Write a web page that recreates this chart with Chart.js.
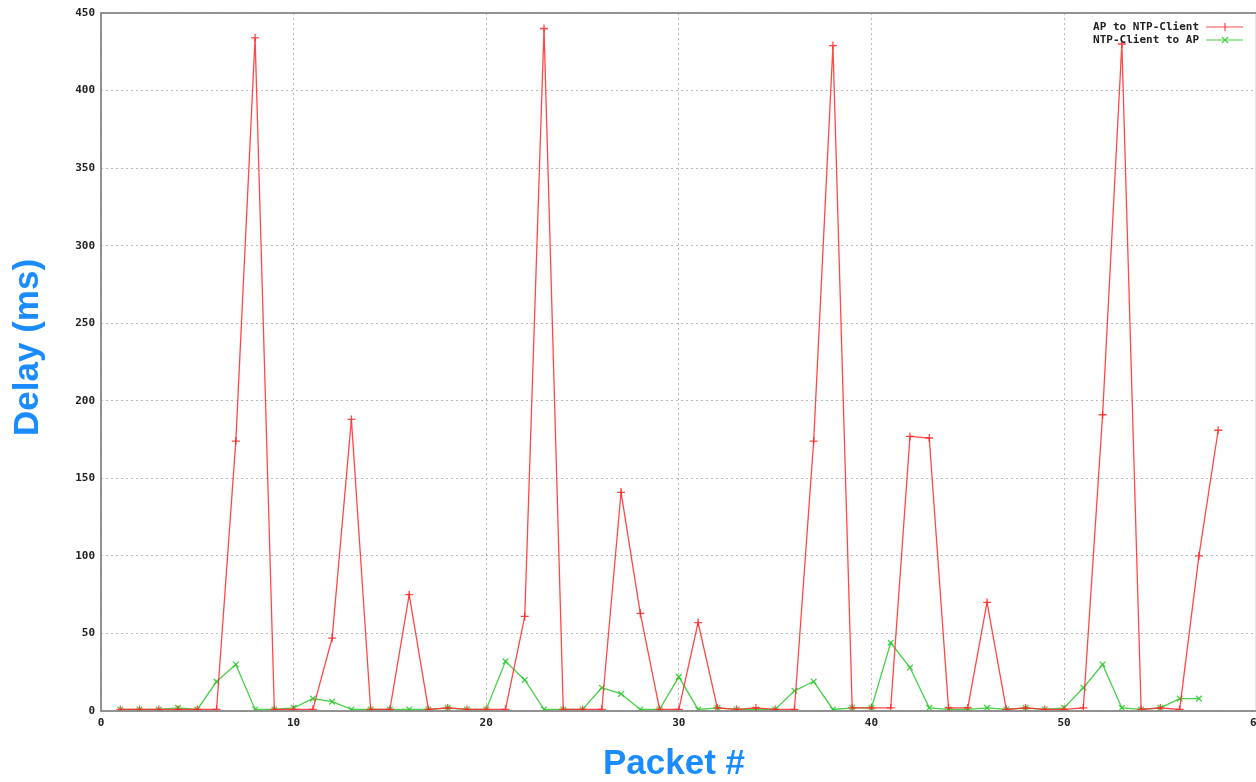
<!DOCTYPE html>
<html>
<head>
<meta charset="utf-8">
<script src="https://cdn.jsdelivr.net/npm/chart.js@4/dist/chart.umd.min.js"></script>
<style>
  html, body { margin: 0; padding: 0; background: #fff; overflow: hidden; }
  #wrap { width: 1262px; height: 782px; }
</style>
</head>
<body>
<div id="wrap"><canvas id="c"></canvas></div>
<script>
let packets = [1,2,3,4,5,6,7,8,9,10,11,12,13,14,15,16,17,18,19,20,21,22,23,24,25,26,27,28,29,30,
  31,32,33,34,35,36,37,38,39,40,41,42,43,44,45,46,47,48,49,50,51,52,53,54,55,56,57,58]

let apToClient = [1,1,1,1,1,1,174,434,1,1,1,47,188,1,1,75,1,2,1,1,1,61,440,1,1,1,141,63,1,1,
  57,2,1,2,1,1,174,429,2,2,2,177,176,2,2,70,1,2,1,1,2,191,430,1,2,1,100,181]

let clientToAp = [1,1,1,2,1,19,30,1,1,2,8,6,1,1,1,1,1,2,1,1,32,20,1,1,1,15,11,1,1,22,
  1,2,1,1,1,13,19,1,2,2,44,28,2,1,1,2,1,2,1,2,15,30,2,1,2,8,8]

let seriesNames = ['AP to NTP-Client', 'NTP-Client to AP']
let xTicks = [0, 10, 20, 30, 40, 50, 60]
let yTicks = [0, 50, 100, 150, 200, 250, 300, 350, 400, 450]

let red = 'rgba(255, 40, 40, 0.85)'
let green = 'rgba(40, 200, 40, 0.85)'
let tickFont = { family: 'DejaVu Sans Mono', size: 11, weight: 'bold' }
let titleFont = { family: 'Liberation Sans', size: 35, weight: 'bold' }

function toPoints(vals) {
    return vals.map((v, i) => ({ x: packets[i], y: v }))
}

// gnuplot style box round the plot and legend with sample on the right
let frame = {
    id: 'frame',
    afterDraw(chart) {
        let ctx = chart.ctx
        let a = chart.chartArea
        ctx.save()
        ctx.strokeStyle = '#888'
        ctx.lineWidth = 1.8
        ctx.strokeRect(a.left, a.top, a.right - a.left, a.bottom - a.top)
        ctx.font = 'bold 11px "DejaVu Sans Mono"'
        ctx.textAlign = 'right'
        ctx.textBaseline = 'middle'
        chart.data.datasets.forEach((ds, i) => {
            let y = 27 + i * 13
            ctx.fillStyle = '#222'
            ctx.fillText(ds.label, 1199, y)
            ctx.strokeStyle = ds.borderColor
            ctx.lineWidth = 1.2
            ctx.beginPath()
            ctx.moveTo(1206, y)
            ctx.lineTo(1243, y)
            ctx.stroke()
            ctx.beginPath()
            if (ds.pointStyle === 'cross') {
                ctx.moveTo(1225, y - 4); ctx.lineTo(1225, y + 4)
            } else {
                ctx.moveTo(1222, y - 3); ctx.lineTo(1228, y + 3)
                ctx.moveTo(1222, y + 3); ctx.lineTo(1228, y - 3)
            }
            ctx.stroke()
        })
        ctx.restore()
    }
}

new Chart(document.getElementById('c').getContext('2d'), {
    type: 'line',
    data: {
        datasets: [{
            label: seriesNames[0],
            data: toPoints(apToClient),
            borderColor: red,
            backgroundColor: red,
            borderWidth: 1.3,
            pointStyle: 'cross',
            pointRadius: 4,
            pointBorderWidth: 1.3,
            tension: 0
        }, {
            label: seriesNames[1],
            data: toPoints(clientToAp),
            borderColor: green,
            backgroundColor: green,
            borderWidth: 1.3,
            pointStyle: 'crossRot',
            pointRadius: 4,
            pointBorderWidth: 1.3,
            tension: 0
        }]
    },
    options: {
        responsive: true,
        maintainAspectRatio: false,
        animation: false,
        layout: { padding: { top: 13, right: 0, left: 0, bottom: 0 } },
        plugins: {
            legend: { display: false },
            tooltip: { enabled: false }
        },
        scales: {
            x: {
                type: 'linear',
                min: 0,
                max: 60,
                afterBuildTicks(scale) { scale.ticks = xTicks.map(v => ({ value: v })) },
                afterFit(scale) { scale.height = 71; scale.paddingLeft = 0; scale.paddingRight = 0 },
                ticks: { font: tickFont, color: '#222', padding: 6, maxRotation: 0 },
                grid: { color: '#bbb', tickLength: 0, drawTicks: false },
                border: { display: false, dash: [2, 3] },
                title: {
                    display: true,
                    text: 'Packet # ',
                    color: '#1a8cff',
                    font: titleFont,
                    padding: { top: 0, bottom: -3 }
                }
            },
            y: {
                min: 0,
                max: 450,
                afterBuildTicks(scale) { scale.ticks = yTicks.map(v => ({ value: v })) },
                afterFit(scale) { scale.width = 101 },
                ticks: { font: tickFont, color: '#222', padding: 6 },
                grid: { color: '#bbb', drawTicks: false },
                border: { display: false, dash: [2, 3] },
                title: {
                    display: true,
                    text: '   Delay (ms)',
                    color: '#1a8cff',
                    font: titleFont,
                    padding: { top: 7, bottom: 0 }
                }
            }
        }
    },
    plugins: [frame]
})
</script>
</body>
</html>
